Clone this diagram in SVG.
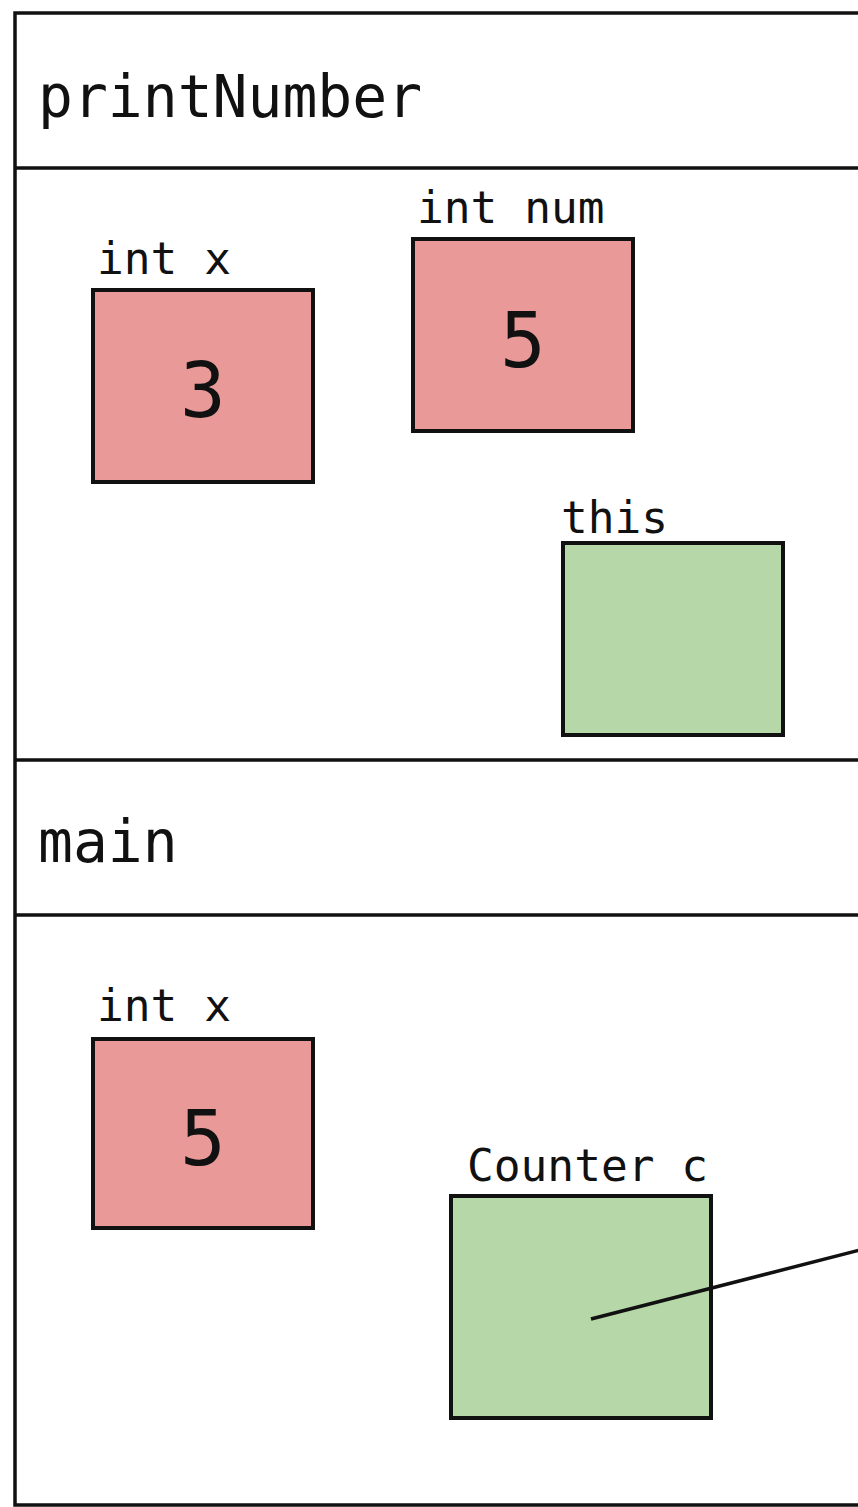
<svg xmlns="http://www.w3.org/2000/svg" width="858" height="1507" viewBox="0 0 858 1507">
<style>
.frame{fill:none;stroke:#111;stroke-width:3.5}
.prim{fill:#ea9999;stroke:#111;stroke-width:4}
.ref{fill:#b6d7a8;stroke:#111;stroke-width:4}
.head{font-family:"DejaVu Sans Mono",monospace;font-size:58px;fill:#111}
.lbl{font-family:"DejaVu Sans Mono",monospace;font-size:44.5px;fill:#111}
.val{font-family:"DejaVu Sans Mono",monospace;font-size:76px;fill:#111;text-anchor:middle}
.conn{stroke:#111;stroke-width:3.5;fill:none}
</style>
<rect width="858" height="1507" fill="#fff"/>
<g id="frames">
<path class="frame" d="M860 13 H15 V1505 H860 M15 168 H860 M15 760 H860 M15 915 H860"/>
<text class="head" x="38" y="117">printNumber</text>
<text class="head" x="38" y="862">main</text>
</g>
<g id="pn-int-x">
<text class="lbl" x="97" y="274">int x</text>
<rect class="prim" x="93" y="290" width="220" height="192"/>
<text class="val" x="203" y="417">3</text>
</g>
<g id="pn-int-num">
<text class="lbl" x="417" y="223">int num</text>
<rect class="prim" x="413" y="239" width="220" height="192"/>
<text class="val" x="523" y="367">5</text>
</g>
<g id="pn-this">
<text class="lbl" x="561" y="533">this</text>
<rect class="ref" x="563" y="543" width="220" height="192"/>
</g>
<g id="main-int-x">
<text class="lbl" x="97" y="1021">int x</text>
<rect class="prim" x="93" y="1039" width="220" height="189"/>
<text class="val" x="203" y="1165">5</text>
</g>
<g id="main-counter-c">
<text class="lbl" x="467" y="1181">Counter c</text>
<rect class="ref" x="451" y="1196" width="260" height="222"/>
</g>
<g id="connectors">
<line class="conn" x1="591" y1="1319" x2="860" y2="1250"/>
</g>
</svg>
